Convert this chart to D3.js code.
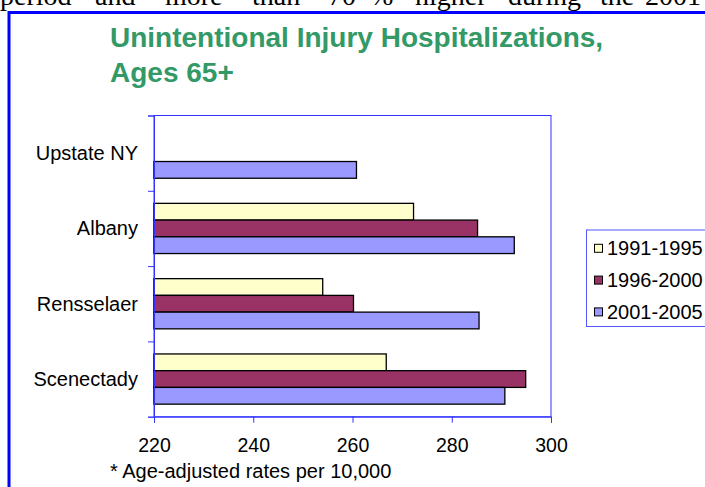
<!DOCTYPE html>
<html lang="en">
<head>
    <meta charset="UTF-8">
    <title>Unintentional Injury Hospitalizations, Ages 65+</title>
    <script src="https://d3js.org/d3.v7.min.js"></script>
    <style>
        body {
            margin: 0;
            padding: 0;
            background-color: #ffffff;
            overflow: hidden;
        }
        text {
            font-family: "Liberation Sans", Arial, sans-serif;
        }
        .page-text {
            font-family: "Liberation Serif", "Times New Roman", serif;
        }
    </style>
</head>
<body>
    <svg id="chart"></svg>

    <script>
        // data
        const categories = ["Upstate NY", "Albany", "Rensselaer", "Scenectady"];
        const seriesNames = ["1991-1995", "1996-2000", "2001-2005"];
        const rates1991_1995 = [null, 272.3, 254.0, 266.8];
        const rates1996_2000 = [null, 285.2, 260.2, 294.9];
        const rates2001_2005 = [260.8, 292.6, 285.5, 290.7];
        const xTicks = [220, 240, 260, 280, 300];
        const seriesColors = ["#FFFFCC", "#993366", "#9999FF"];

        const width = 705;
        const height = 487;
        const plot = { left: 154, top: 115.5, right: 551, bottom: 416.7 };

        const svg = d3.select("#chart")
            .attr("width", width)
            .attr("height", height);

        // bit of the document text that is cut off above the chart
        const pageWords = ["period", "and", "more", "than", "70", "%", "higher", "during", "the", "2001-2005"];
        const pageWordX = [0, 95, 165, 252, 328, 370, 415, 508, 600, 645];
        const pageText = svg.append("text")
            .attr("class", "page-text")
            .attr("y", 5)
            .attr("font-size", "28px")
            .attr("fill", "#000");
        pageWords.forEach((w, i) => {
            pageText.append("tspan").attr("x", pageWordX[i]).text(w);
        });

        // chart area frame
        svg.append("rect")
            .attr("x", 9)
            .attr("y", 12.5)
            .attr("width", 900)
            .attr("height", 700)
            .attr("fill", "#fff")
            .attr("stroke", "#0000ff")
            .attr("stroke-width", 3);

        // title
        const title = svg.append("text")
            .attr("x", 110)
            .attr("font-size", "28px")
            .attr("font-weight", "bold")
            .attr("fill", "#339966");
        title.append("tspan").attr("x", 110).attr("y", 46.7).text("Unintentional Injury Hospitalizations,");
        title.append("tspan").attr("x", 110).attr("y", 82.3).text("Ages 65+");

        const xScale = d3.scaleLinear()
            .domain([220, 300])
            .range([plot.left, plot.right]);

        const yScale = d3.scaleBand()
            .domain(categories)
            .range([plot.top, plot.bottom])
            .paddingInner(1 / 3)
            .paddingOuter(1 / 6);

        const ySub = d3.scaleBand()
            .domain(seriesNames)
            .range([0, yScale.bandwidth()]);

        const yEdge = d3.scaleLinear()
            .domain([0, categories.length])
            .range([plot.top, plot.bottom]);

        // plot area border
        svg.append("rect")
            .attr("x", plot.left)
            .attr("y", plot.top)
            .attr("width", plot.right - plot.left)
            .attr("height", plot.bottom - plot.top)
            .attr("fill", "none")
            .attr("stroke", "#3333ff")
            .attr("stroke-width", 1);

        // bars
        const seriesValues = [rates1991_1995, rates1996_2000, rates2001_2005];
        const barData = [];
        seriesNames.forEach((s, j) => {
            categories.forEach((c, i) => {
                if (seriesValues[j][i] != null) {
                    barData.push({ category: c, series: s, value: seriesValues[j][i], color: seriesColors[j] });
                }
            });
        });

        svg.append("g")
            .selectAll("rect")
            .data(barData)
            .join("rect")
            .attr("x", xScale(220))
            .attr("y", d => yScale(d.category) + ySub(d.series))
            .attr("width", d => xScale(d.value) - xScale(220))
            .attr("height", ySub.bandwidth())
            .attr("fill", d => d.color)
            .attr("stroke", "#000")
            .attr("stroke-width", 1.3);

        // category axis ticks at the band edges
        const yAxis = svg.append("g")
            .attr("transform", `translate(${plot.left},0)`)
            .call(d3.axisLeft(yEdge).tickValues(d3.range(categories.length + 1)).tickSize(6).tickFormat(""));
        yAxis.selectAll("line, path").attr("stroke", "#3333ff");

        svg.append("g")
            .selectAll("text")
            .data(categories)
            .join("text")
            .attr("x", 138)
            .attr("y", d => yScale(d) + yScale.bandwidth() / 2)
            .attr("dy", "0.35em")
            .attr("text-anchor", "end")
            .attr("font-size", "20px")
            .attr("fill", "#000")
            .text(d => d);

        // value axis
        const xAxis = svg.append("g")
            .attr("transform", `translate(0,${plot.bottom})`)
            .call(d3.axisBottom(xScale).tickValues(xTicks).tickSize(6).tickPadding(15.5));
        xAxis.selectAll("line, path").attr("stroke", "#3333ff");
        xAxis.selectAll("text")
            .attr("font-family", "Liberation Sans, Arial, sans-serif")
            .attr("font-size", "19.5px")
            .attr("fill", "#000");

        svg.append("text")
            .attr("x", 110)
            .attr("y", 478)
            .attr("font-size", "20px")
            .attr("fill", "#000")
            .text("* Age-adjusted rates per 10,000");

        // legend
        const legend = svg.append("g");
        legend.append("rect")
            .attr("x", 586.5)
            .attr("y", 230)
            .attr("width", 200)
            .attr("height", 96.5)
            .attr("fill", "#fff")
            .attr("stroke", "#5555ff")
            .attr("stroke-width", 1);

        const legendItems = legend.selectAll("g.item")
            .data(seriesNames)
            .join("g")
            .attr("class", "item")
            .attr("transform", (d, i) => `translate(594.5,${248.3 + i * 31.8})`);

        legendItems.append("rect")
            .attr("x", 0)
            .attr("y", -4)
            .attr("width", 8)
            .attr("height", 8)
            .attr("fill", (d, i) => seriesColors[i])
            .attr("stroke", "#000")
            .attr("stroke-width", 1);

        legendItems.append("text")
            .attr("x", 12.5)
            .attr("dy", "0.35em")
            .attr("font-size", "20px")
            .attr("fill", "#000")
            .text(d => d);
    </script>
</body>
</html>
